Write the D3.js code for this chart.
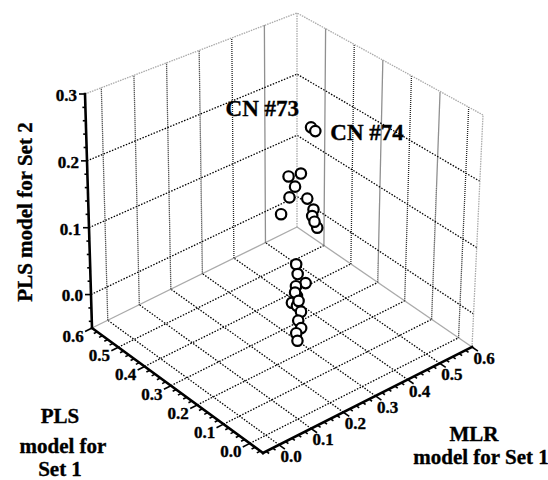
<!DOCTYPE html>
<html>
<head>
<meta charset="utf-8">
<script src="https://cdn.jsdelivr.net/npm/d3@7"></script>
<style>
body{margin:0;background:#fff;}
text{font-family:"Liberation Serif","Times New Roman",serif;font-weight:bold;fill:#000;stroke:#000;stroke-width:0.35;}
</style>
</head>
<body>
<div id="chart"></div>
<script>
// predicted values per compound
var mlr  = [0.349,0.325,0.351,0.325,0.336,0.273,0.310,0.339,0.273,0.296,0.236,0.256,0.270,0.326,
            0.298,0.329,0.319,0.297,0.345,0.291,0.344,0.342,0.358,0.351,
            0.344,0.340];
var pls1 = [0.308,0.274,0.275,0.280,0.289,0.233,0.258,0.277,0.209,0.225,0.172,0.191,0.218,0.271,
            0.278,0.270,0.279,0.273,0.265,0.296,0.241,0.243,0.243,0.245,
            0.253,0.233];
var pls2 = [0.036,0.036,0.016,0.016,-0.004,0.016,-0.004,-0.025,-0.004,-0.025,-0.004,-0.025,0.036,-0.004,
            0.188,0.188,0.168,0.158,0.148,0.128,0.138,0.128,0.107,0.117,
            0.259,0.259];
var tags = [{i:24,text:"CN #73"},{i:25,text:"CN #74"}];

var mlrTicks  = [0,0.1,0.2,0.3,0.4,0.5,0.6];
var pls1Ticks = [0,0.1,0.2,0.3,0.4,0.5,0.6];
var pls2Ticks = [0,0.1,0.2,0.3];

var width = 548, height = 480;
var svg = d3.select("#chart").append("svg")
    .attr("width",width).attr("height",height);

var xs = d3.scaleLinear().domain([-0.05,0.6]).range([0,1]);
var ys = d3.scaleLinear().domain([-0.05,0.6]).range([0,1]);
var zs = d3.scaleLinear().domain([-0.05,0.3]).range([0,1]);

// screen position of the box corners, corner[u][v][w]
var corner = [
  [ [[263,453],[264,200]], [[92,328],[85,94]] ],
  [ [[472,347],[483,115]], [[297,227],[297,13]] ]
];
function lerp(p,q,t){ return [p[0]+(q[0]-p[0])*t, p[1]+(q[1]-p[1])*t]; }
function project(a,b,c){
    var u = xs(a), v = ys(b), w = zs(c);
    var lo = lerp(lerp(corner[0][0][0],corner[1][0][0],u), lerp(corner[0][1][0],corner[1][1][0],u), v);
    var hi = lerp(lerp(corner[0][0][1],corner[1][0][1],u), lerp(corner[0][1][1],corner[1][1][1],u), v);
    return lerp(lo,hi,w);
}
var x0 = xs.domain()[0], x1 = xs.domain()[1];
var y0 = ys.domain()[0], y1 = ys.domain()[1];
var z0 = zs.domain()[0], z1 = zs.domain()[1];

function seg(g,p,q,cls){
    return g.append("line")
        .attr("x1",p[0]).attr("y1",p[1]).attr("x2",q[0]).attr("y2",q[1])
        .attr("class",cls);
}

svg.append("style").text(
  ".dot{stroke:#000;stroke-width:1.3;stroke-dasharray:1.5,1.5;}"+
  ".vdot{stroke:#222;stroke-width:1.3;stroke-dasharray:1,1;}"+
  ".edge{stroke:#aaa;stroke-width:1.3;stroke-dasharray:1.5,1;}"+
  ".solidedge{stroke:#aaa;stroke-width:1.3;}"+
  ".axis{stroke:#000;stroke-width:2.6;stroke-linecap:square;}"+
  ".tick{stroke:#000;stroke-width:1.6;}"
);

var grid = svg.append("g");
// floor
mlrTicks.slice(0,-1).forEach(function(a){ seg(grid,project(a,y0,z0),project(a,y1,z0),"dot"); });
pls1Ticks.slice(0,-1).forEach(function(b){ seg(grid,project(x0,b,z0),project(x1,b,z0),"dot"); });
seg(grid,project(x1,y0,z0),project(x1,y1,z0),"solidedge");
seg(grid,project(x0,y1,z0),project(x1,y1,z0),"solidedge");
// left wall (PLS1 = max)
mlrTicks.slice(0,-1).forEach(function(a){ seg(grid,project(a,y1,z0),project(a,y1,z1),"vdot"); });
pls2Ticks.slice(0,-1).forEach(function(c){ seg(grid,project(x0,y1,c),project(x1,y1,c),"dot"); });
seg(grid,project(x0,y1,z1),project(x1,y1,z1),"edge");
// right wall (MLR = max)
pls1Ticks.slice(0,-1).forEach(function(b){ seg(grid,project(x1,b,z0),project(x1,b,z1),"vdot"); });
pls2Ticks.slice(0,-1).forEach(function(c){ seg(grid,project(x1,y0,c),project(x1,y1,c),"dot"); });
seg(grid,project(x1,y0,z1),project(x1,y1,z1),"edge");
seg(grid,project(x1,y1,z0),project(x1,y1,z1),"edge");
seg(grid,project(x1,y0,z0),project(x1,y0,z1),"edge");

// axes
var ax = svg.append("g");
seg(ax,project(x0,y1,z0),project(x0,y1,z1),"axis");
seg(ax,project(x0,y0,z0),project(x0,y1,z0),"axis");
seg(ax,project(x0,y0,z0),project(x1,y0,z0),"axis");

function isMajor(list,v){ return list.indexOf(+v.toFixed(3)) >= 0; }
zs.ticks(14).forEach(function(c){
    var p = project(x0,y1,c);
    seg(ax,p,[p[0]-(isMajor(pls2Ticks,c)?6:3),p[1]],"tick");
});
ys.ticks(26).forEach(function(b){
    var off = isMajor(pls1Ticks,b) ? 0.022 : 0.011;
    seg(ax,project(x0,b,z0),project(x0-off,b,z0),"tick");
});
xs.ticks(26).forEach(function(a){
    var off = isMajor(mlrTicks,a) ? 0.022 : 0.011;
    seg(ax,project(a,y0,z0),project(a,y0-off,z0),"tick");
});

var lab = svg.append("g").style("font-size","17px");
pls2Ticks.forEach(function(c){
    var p = project(x0,y1,c);
    lab.append("text").attr("x",p[0]-8).attr("y",p[1]+3)
        .attr("text-anchor","end").attr("dominant-baseline","middle")
        .text(c.toFixed(1));
});
pls1Ticks.forEach(function(b){
    var p = project(x0,b,z0);
    lab.append("text").attr("x",p[0]-19).attr("y",p[1]+10)
        .attr("text-anchor","middle").attr("dominant-baseline","middle")
        .text(b.toFixed(1));
});
mlrTicks.forEach(function(a){
    var p = project(a,y0,z0);
    lab.append("text").attr("x",p[0]+12).attr("y",p[1]+13)
        .attr("text-anchor","middle").attr("dominant-baseline","middle")
        .text(a.toFixed(1));
});

// axis titles
var ttl = svg.append("g").style("font-size","21px").attr("text-anchor","middle");
ttl.append("text").attr("transform","translate(27,212) rotate(-90)")
    .attr("dominant-baseline","middle").text("PLS model for Set 2");
[["PLS",60,418],["model for",63,448],["Set 1",60,471],["MLR",474,436],["model for Set 1",481,459]]
  .forEach(function(t){
    ttl.append("text").attr("x",t[1]).attr("y",t[2])
        .attr("dominant-baseline","middle").text(t[0]);
  });

// points
var pts = mlr.map(function(d,i){ return project(d,pls1[i],pls2[i]); });
svg.append("g").selectAll("circle").data(pts).enter().append("circle")
    .attr("cx",function(d){return d[0];})
    .attr("cy",function(d){return d[1];})
    .attr("r",5.2)
    .attr("fill","#fff").attr("stroke","#000").attr("stroke-width",2.2);

// annotations
var ann = svg.append("g").style("font-size","23px").attr("dominant-baseline","middle");
ann.append("text").attr("x",pts[tags[0].i][0]-12).attr("y",pts[tags[0].i][1]-17)
    .attr("text-anchor","end").text(tags[0].text);
ann.append("text").attr("x",pts[tags[1].i][0]+15).attr("y",pts[tags[1].i][1]+4)
    .attr("text-anchor","start").text(tags[1].text);
</script>
</body>
</html>
